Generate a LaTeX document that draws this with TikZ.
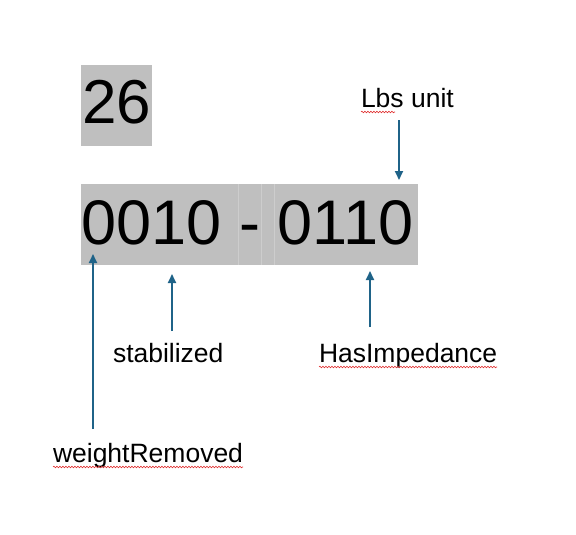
\documentclass[tikz,border=0pt]{standalone}
\usepackage{fontspec}
\setmainfont{Liberation Sans}
\usetikzlibrary{arrows.meta,positioning,calc,decorations.pathmorphing}
\definecolor{cellgray}{HTML}{BFBFBF}
\definecolor{arrowblue}{HTML}{1F6388}
\definecolor{spellred}{HTML}{E03030}

\begin{document}
\begin{tikzpicture}[x=1pt,y=-1pt,>=Latex,
  every node/.style={inner sep=0pt,outer sep=0pt},
  cellbox/.style={fill=cellgray,font=\fontsize{62}{62}\selectfont,anchor=north west},
  lbl/.style={font=\fontsize{26.5}{26.5}\selectfont,anchor=base west},
  arr/.style={draw=arrowblue,line width=1.8pt,-{Triangle[length=9pt,width=8pt]}},
  squig/.style={draw=spellred,line width=0.6pt,decorate,
    decoration={snake,amplitude=0.8pt,segment length=3pt}}]
\useasboundingbox (0,0) rectangle (576,535);
% number boxes
\node[cellbox,minimum width=71pt,minimum height=81pt] (day) at (81,65) {};
\node at ($(day.center)+(0,-3)$) {\fontsize{62}{62}\selectfont 26};
\node[cellbox,minimum width=337pt,minimum height=81pt] (code) at (81,184) {};
\foreach \x in {238,261,274}{\draw[cellgray!78!white,line width=0.5pt] (\x,184)--(\x,265);}
\node (codetxt) at ($(code.center)+(-2,-2)$) {\fontsize{63}{63}\selectfont 0010 - 0110};
% labels
\node[lbl] (lbs) at (361,107) {Lbs unit};
\node[lbl] (stab) at (113,362) {stabilized};
\node[lbl] (imp) at (319,362) {HasImpedance};
\node[lbl] (wr) at (53,462) {weightRemoved};
% spell-check marks
\draw[squig] ([yshift=-5pt]lbs.base west) -- ++(34,0);
\draw[squig] ([yshift=-5pt]imp.base west) -- ([yshift=-5pt]imp.base east);
\draw[squig] ([yshift=-5pt]wr.base west) -- ([yshift=-5pt]wr.base east);
% arrows
\coordinate (lbsT) at (399,120);
\coordinate (stabT) at (172,331);
\coordinate (impT) at (370,327);
\coordinate (wrT) at (93,429);
\draw[arr] (lbsT) -- ([yshift=4pt]lbsT |- code.north);
\draw[arr] (stabT) -- ([yshift=-9pt]stabT |- code.south);
\draw[arr] (impT) -- ([yshift=-6pt]impT |- code.south);
\draw[arr] (wrT) -- ([yshift=11pt]wrT |- code.south);
\end{tikzpicture}
\end{document}
